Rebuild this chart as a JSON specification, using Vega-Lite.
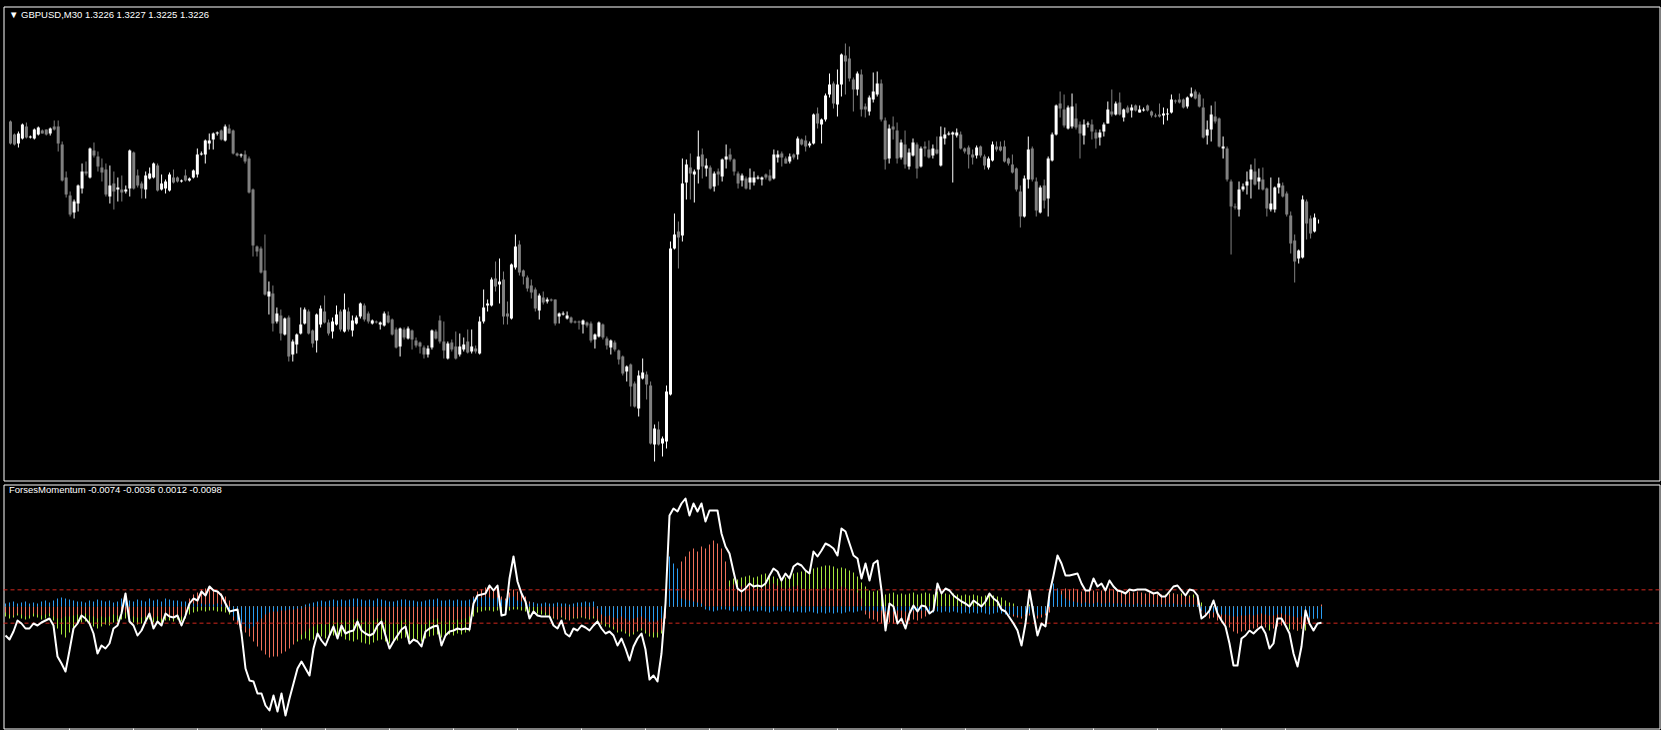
{
"$schema":"https://vega.github.io/schema/vega-lite/v6.json",
"background":"#000000",
"padding":{"left":2.5,"top":5.5,"right":2,"bottom":0},
"spacing":2,
"config":{"view":{"stroke":"#ffffff","strokeWidth":1},"axis":{"translate":0}},
"datasets":{"bars":[
{"i":0,"o":1.3276,"h":1.32765,"l":1.32645,"c":1.3265,"m":-0.0174,"b":0.0018,"g":-0.006,"r":-0.0036},
{"i":1,"o":1.32695,"h":1.327,"l":1.3264,"c":1.32645,"m":-0.0198,"b":0.0024,"g":-0.0072,"r":-0.0048},
{"i":2,"o":1.3265,"h":1.3271,"l":1.3263,"c":1.327,"m":-0.015,"b":0.003,"g":-0.0066,"r":-0.0054},
{"i":3,"o":1.32675,"h":1.3275,"l":1.3267,"c":1.32745,"m":-0.0084,"b":0.0018,"g":-0.0054,"r":-0.0042},
{"i":4,"o":1.32735,"h":1.32755,"l":1.32675,"c":1.3268,"m":-0.0102,"b":0.0024,"g":-0.0072,"r":-0.0048},
{"i":5,"o":1.3268,"h":1.3269,"l":1.32675,"c":1.32685,"m":-0.0132,"b":0.003,"g":-0.0078,"r":-0.006},
{"i":6,"o":1.32675,"h":1.32725,"l":1.3267,"c":1.3272,"m":-0.0132,"b":0.0018,"g":-0.0072,"r":-0.0054},
{"i":7,"o":1.32695,"h":1.32735,"l":1.3269,"c":1.3273,"m":-0.0102,"b":0.0024,"g":-0.006,"r":-0.0042},
{"i":8,"o":1.32715,"h":1.3272,"l":1.327,"c":1.327,"m":-0.0114,"b":0.0018,"g":-0.0066,"r":-0.0048},
{"i":9,"o":1.3272,"h":1.3272,"l":1.3269,"c":1.32695,"m":-0.0096,"b":0.003,"g":-0.0078,"r":-0.0054},
{"i":10,"o":1.327,"h":1.3273,"l":1.3269,"c":1.32725,"m":-0.0084,"b":0.0036,"g":-0.0072,"r":-0.0048},
{"i":11,"o":1.32735,"h":1.32765,"l":1.32715,"c":1.3272,"m":-0.0072,"b":0.0024,"g":-0.006,"r":-0.0042},
{"i":12,"o":1.32735,"h":1.32765,"l":1.3261,"c":1.3265,"m":-0.0114,"b":0.0036,"g":-0.0084,"r":-0.006},
{"i":13,"o":1.32645,"h":1.3266,"l":1.3246,"c":1.32465,"m":-0.03,"b":0.0048,"g":-0.0132,"r":-0.0072},
{"i":14,"o":1.3248,"h":1.3251,"l":1.3238,"c":1.32395,"m":-0.0342,"b":0.0054,"g":-0.0168,"r":-0.0072},
{"i":15,"o":1.3239,"h":1.3241,"l":1.32285,"c":1.32295,"m":-0.039,"b":0.0048,"g":-0.0186,"r":-0.006},
{"i":16,"o":1.32305,"h":1.3237,"l":1.32275,"c":1.3236,"m":-0.0264,"b":0.0042,"g":-0.0156,"r":-0.006},
{"i":17,"o":1.3235,"h":1.32445,"l":1.3231,"c":1.3244,"m":-0.0132,"b":0.0036,"g":-0.0132,"r":-0.0054},
{"i":18,"o":1.32425,"h":1.3255,"l":1.324,"c":1.3251,"m":-0.0102,"b":0.003,"g":-0.0108,"r":-0.0048},
{"i":19,"o":1.3251,"h":1.3256,"l":1.3249,"c":1.325,"m":-0.0054,"b":0.003,"g":-0.0096,"r":-0.0048},
{"i":20,"o":1.3248,"h":1.3263,"l":1.32475,"c":1.32625,"m":-0.0072,"b":0.0024,"g":-0.009,"r":-0.0042},
{"i":21,"o":1.32615,"h":1.32655,"l":1.3258,"c":1.3259,"m":-0.0102,"b":0.0036,"g":-0.0102,"r":-0.0054},
{"i":22,"o":1.32585,"h":1.3261,"l":1.3251,"c":1.32535,"m":-0.0162,"b":0.003,"g":-0.012,"r":-0.006},
{"i":23,"o":1.3253,"h":1.32575,"l":1.3246,"c":1.32505,"m":-0.0282,"b":0.0042,"g":-0.0132,"r":-0.0072},
{"i":24,"o":1.3252,"h":1.3255,"l":1.32385,"c":1.32395,"m":-0.0234,"b":0.0036,"g":-0.012,"r":-0.006},
{"i":25,"o":1.32385,"h":1.3254,"l":1.3235,"c":1.3244,"m":-0.0252,"b":0.003,"g":-0.0108,"r":-0.0066},
{"i":26,"o":1.3245,"h":1.3251,"l":1.3232,"c":1.3241,"m":-0.0222,"b":0.0036,"g":-0.0114,"r":-0.006},
{"i":27,"o":1.3242,"h":1.3248,"l":1.3236,"c":1.3243,"m":-0.0132,"b":0.0024,"g":-0.0096,"r":-0.0048},
{"i":28,"o":1.3242,"h":1.3249,"l":1.3236,"c":1.32405,"m":-0.0114,"b":0.003,"g":-0.009,"r":-0.0054},
{"i":29,"o":1.3241,"h":1.3244,"l":1.324,"c":1.3242,"m":-0.0042,"b":0.0048,"g":-0.0078,"r":-0.0048},
{"i":30,"o":1.32425,"h":1.3262,"l":1.32385,"c":1.32615,"m":0.0078,"b":0.0054,"g":-0.0072,"r":-0.0036},
{"i":31,"o":1.32605,"h":1.3261,"l":1.3242,"c":1.32425,"m":-0.009,"b":0.0036,"g":-0.009,"r":-0.0054},
{"i":32,"o":1.3249,"h":1.3252,"l":1.3243,"c":1.3244,"m":-0.0114,"b":0.003,"g":-0.0096,"r":-0.006},
{"i":33,"o":1.3245,"h":1.3246,"l":1.32375,"c":1.32425,"m":-0.0174,"b":0.0042,"g":-0.0108,"r":-0.0066},
{"i":34,"o":1.3242,"h":1.3251,"l":1.32375,"c":1.3249,"m":-0.0144,"b":0.0036,"g":-0.0102,"r":-0.0066},
{"i":35,"o":1.32475,"h":1.3253,"l":1.3247,"c":1.325,"m":-0.009,"b":0.003,"g":-0.009,"r":-0.006},
{"i":36,"o":1.3248,"h":1.32555,"l":1.32475,"c":1.3255,"m":-0.0042,"b":0.0048,"g":-0.0078,"r":-0.0054},
{"i":37,"o":1.3254,"h":1.3255,"l":1.3241,"c":1.32415,"m":-0.0132,"b":0.0036,"g":-0.0096,"r":-0.0066},
{"i":38,"o":1.3242,"h":1.32495,"l":1.32415,"c":1.3245,"m":-0.009,"b":0.0042,"g":-0.009,"r":-0.006},
{"i":39,"o":1.32425,"h":1.3247,"l":1.324,"c":1.3246,"m":-0.0114,"b":0.003,"g":-0.0102,"r":-0.0072},
{"i":40,"o":1.32415,"h":1.32505,"l":1.3241,"c":1.32495,"m":-0.0042,"b":0.0048,"g":-0.0084,"r":-0.006},
{"i":41,"o":1.3248,"h":1.3252,"l":1.3245,"c":1.32455,"m":-0.006,"b":0.0042,"g":-0.0084,"r":-0.0054},
{"i":42,"o":1.3248,"h":1.32485,"l":1.32455,"c":1.3246,"m":-0.0066,"b":0.0036,"g":-0.009,"r":-0.006},
{"i":43,"o":1.3246,"h":1.3247,"l":1.32455,"c":1.32465,"m":-0.0054,"b":0.0036,"g":-0.0078,"r":-0.0048},
{"i":44,"o":1.3249,"h":1.3252,"l":1.3246,"c":1.32465,"m":-0.0114,"b":0.003,"g":-0.009,"r":-0.006},
{"i":45,"o":1.32465,"h":1.3248,"l":1.3246,"c":1.32475,"m":-0.0054,"b":0.003,"g":-0.0072,"r":-0.0036},
{"i":46,"o":1.3248,"h":1.3252,"l":1.32475,"c":1.32515,"m":0.0018,"b":0.0018,"g":-0.0048,"r":0.0048},
{"i":47,"o":1.32495,"h":1.32625,"l":1.3248,"c":1.32595,"m":0.0048,"b":0.0018,"g":-0.0036,"r":0.0072},
{"i":48,"o":1.32595,"h":1.3261,"l":1.3259,"c":1.326,"m":0.0036,"b":0.0012,"g":-0.003,"r":0.0084},
{"i":49,"o":1.32595,"h":1.3267,"l":1.3255,"c":1.32665,"m":0.009,"b":0.0018,"g":-0.0024,"r":0.0102},
{"i":50,"o":1.3265,"h":1.327,"l":1.3262,"c":1.32665,"m":0.0066,"b":0.0012,"g":-0.003,"r":0.0108},
{"i":51,"o":1.3267,"h":1.32705,"l":1.3262,"c":1.327,"m":0.012,"b":0.0018,"g":-0.0024,"r":0.0114},
{"i":52,"o":1.327,"h":1.3271,"l":1.3269,"c":1.32705,"m":0.0096,"b":0.0012,"g":-0.0024,"r":0.0102},
{"i":53,"o":1.32715,"h":1.3272,"l":1.32665,"c":1.3267,"m":0.009,"b":0.0018,"g":-0.003,"r":0.009},
{"i":54,"o":1.32665,"h":1.32745,"l":1.3266,"c":1.32735,"m":0.0066,"b":0.0012,"g":-0.003,"r":0.0078},
{"i":55,"o":1.32725,"h":1.32745,"l":1.327,"c":1.327,"m":0.0018,"b":0.0012,"g":-0.0036,"r":0.006},
{"i":56,"o":1.32715,"h":1.3272,"l":1.32595,"c":1.326,"m":-0.003,"b":-0.0024,"g":-0.0048,"r":0.0036},
{"i":57,"o":1.326,"h":1.32605,"l":1.32585,"c":1.3259,"m":-0.0024,"b":-0.006,"g":-0.0072,"r":-0.0084},
{"i":58,"o":1.3259,"h":1.326,"l":1.3258,"c":1.32595,"m":-0.0018,"b":-0.0084,"g":-0.009,"r":-0.0108},
{"i":59,"o":1.32595,"h":1.32615,"l":1.3255,"c":1.3256,"m":-0.0162,"b":-0.0108,"g":-0.0108,"r":-0.0132},
{"i":60,"o":1.32575,"h":1.32585,"l":1.324,"c":1.32405,"m":-0.0372,"b":-0.012,"g":-0.012,"r":-0.0156},
{"i":61,"o":1.3242,"h":1.32425,"l":1.32085,"c":1.3214,"m":-0.0444,"b":-0.0132,"g":-0.0132,"r":-0.018},
{"i":62,"o":1.32135,"h":1.3214,"l":1.32085,"c":1.3211,"m":-0.045,"b":-0.012,"g":-0.015,"r":-0.021},
{"i":63,"o":1.32125,"h":1.32135,"l":1.32,"c":1.32005,"m":-0.0522,"b":-0.009,"g":-0.0168,"r":-0.024},
{"i":64,"o":1.32015,"h":1.32195,"l":1.3189,"c":1.31895,"m":-0.0522,"b":-0.0072,"g":-0.0192,"r":-0.0264},
{"i":65,"o":1.31885,"h":1.3196,"l":1.31795,"c":1.3191,"m":-0.0594,"b":-0.0048,"g":-0.0216,"r":-0.0288},
{"i":66,"o":1.319,"h":1.3194,"l":1.3171,"c":1.3175,"m":-0.0624,"b":-0.0036,"g":-0.024,"r":-0.0306},
{"i":67,"o":1.3176,"h":1.3183,"l":1.3175,"c":1.318,"m":-0.0534,"b":-0.003,"g":-0.0246,"r":-0.03},
{"i":68,"o":1.3179,"h":1.3182,"l":1.31665,"c":1.317,"m":-0.063,"b":-0.003,"g":-0.0228,"r":-0.03},
{"i":69,"o":1.31695,"h":1.3178,"l":1.3169,"c":1.31775,"m":-0.0522,"b":-0.0024,"g":-0.0216,"r":-0.0282},
{"i":70,"o":1.3178,"h":1.3179,"l":1.3156,"c":1.31585,"m":-0.0654,"b":-0.0024,"g":-0.021,"r":-0.027},
{"i":71,"o":1.31595,"h":1.3167,"l":1.3156,"c":1.3166,"m":-0.0552,"b":-0.0018,"g":-0.0198,"r":-0.0252},
{"i":72,"o":1.31645,"h":1.317,"l":1.316,"c":1.31695,"m":-0.0462,"b":-0.0018,"g":-0.0204,"r":-0.0228},
{"i":73,"o":1.317,"h":1.3183,"l":1.31695,"c":1.31745,"m":-0.0372,"b":-0.0012,"g":-0.021,"r":-0.0198},
{"i":74,"o":1.3175,"h":1.3183,"l":1.31745,"c":1.3182,"m":-0.033,"b":-0.0012,"g":-0.0198,"r":-0.0168},
{"i":75,"o":1.3181,"h":1.3182,"l":1.31695,"c":1.317,"m":-0.0372,"b":0.0012,"g":-0.0192,"r":-0.015},
{"i":76,"o":1.31715,"h":1.3172,"l":1.3163,"c":1.3165,"m":-0.0414,"b":0.0018,"g":-0.0204,"r":-0.0132},
{"i":77,"o":1.31665,"h":1.318,"l":1.31605,"c":1.31795,"m":-0.0252,"b":0.0024,"g":-0.0198,"r":-0.012},
{"i":78,"o":1.31745,"h":1.3184,"l":1.3173,"c":1.31825,"m":-0.0162,"b":0.003,"g":-0.018,"r":-0.0108},
{"i":79,"o":1.3181,"h":1.3189,"l":1.3175,"c":1.31755,"m":-0.0204,"b":0.0036,"g":-0.018,"r":-0.0102},
{"i":80,"o":1.31755,"h":1.3177,"l":1.3169,"c":1.317,"m":-0.0234,"b":0.003,"g":-0.0192,"r":-0.0108},
{"i":81,"o":1.3171,"h":1.3178,"l":1.31675,"c":1.3176,"m":-0.0174,"b":0.0036,"g":-0.0186,"r":-0.0096},
{"i":82,"o":1.31745,"h":1.3184,"l":1.3174,"c":1.31795,"m":-0.012,"b":0.0042,"g":-0.0174,"r":-0.009},
{"i":83,"o":1.3181,"h":1.3182,"l":1.3171,"c":1.3172,"m":-0.0192,"b":0.0036,"g":-0.0192,"r":-0.0096},
{"i":84,"o":1.3171,"h":1.319,"l":1.31705,"c":1.3182,"m":-0.0114,"b":0.0042,"g":-0.018,"r":-0.0084},
{"i":85,"o":1.3181,"h":1.3183,"l":1.3171,"c":1.3172,"m":-0.0162,"b":0.0036,"g":-0.0198,"r":-0.009},
{"i":86,"o":1.31715,"h":1.3179,"l":1.31685,"c":1.31765,"m":-0.015,"b":0.0042,"g":-0.0204,"r":-0.0084},
{"i":87,"o":1.3175,"h":1.3179,"l":1.31745,"c":1.3178,"m":-0.0144,"b":0.0048,"g":-0.021,"r":-0.0078},
{"i":88,"o":1.31785,"h":1.31855,"l":1.31775,"c":1.3185,"m":-0.009,"b":0.0048,"g":-0.0198,"r":-0.0072},
{"i":89,"o":1.3184,"h":1.3185,"l":1.3176,"c":1.3177,"m":-0.0144,"b":0.0042,"g":-0.0216,"r":-0.0084},
{"i":90,"o":1.318,"h":1.3181,"l":1.3175,"c":1.3176,"m":-0.0162,"b":0.0036,"g":-0.0222,"r":-0.009},
{"i":91,"o":1.3175,"h":1.3177,"l":1.31745,"c":1.31765,"m":-0.0174,"b":0.0042,"g":-0.0228,"r":-0.009},
{"i":92,"o":1.3176,"h":1.31765,"l":1.3175,"c":1.31755,"m":-0.0162,"b":0.0036,"g":-0.0216,"r":-0.0084},
{"i":93,"o":1.31745,"h":1.3176,"l":1.3172,"c":1.31755,"m":-0.0114,"b":0.0048,"g":-0.0204,"r":-0.0072},
{"i":94,"o":1.3174,"h":1.3181,"l":1.31735,"c":1.318,"m":-0.009,"b":0.0042,"g":-0.0198,"r":-0.0072},
{"i":95,"o":1.3179,"h":1.3181,"l":1.3175,"c":1.31755,"m":-0.0174,"b":0.0036,"g":-0.021,"r":-0.0084},
{"i":96,"o":1.3177,"h":1.31775,"l":1.3169,"c":1.31695,"m":-0.0252,"b":0.003,"g":-0.0222,"r":-0.0096},
{"i":97,"o":1.3172,"h":1.3173,"l":1.31625,"c":1.3163,"m":-0.021,"b":0.003,"g":-0.0216,"r":-0.0102},
{"i":98,"o":1.31635,"h":1.3173,"l":1.31585,"c":1.31725,"m":-0.0174,"b":0.0036,"g":-0.0204,"r":-0.0096},
{"i":99,"o":1.3172,"h":1.3173,"l":1.3167,"c":1.3168,"m":-0.0138,"b":0.0042,"g":-0.0192,"r":-0.0084},
{"i":100,"o":1.31675,"h":1.31735,"l":1.3167,"c":1.31725,"m":-0.012,"b":0.0042,"g":-0.0186,"r":-0.0078},
{"i":101,"o":1.31715,"h":1.3172,"l":1.3162,"c":1.3167,"m":-0.0222,"b":0.0036,"g":-0.0198,"r":-0.009},
{"i":102,"o":1.31665,"h":1.3168,"l":1.3163,"c":1.3164,"m":-0.0198,"b":0.0036,"g":-0.0204,"r":-0.0096},
{"i":103,"o":1.31655,"h":1.3166,"l":1.316,"c":1.31635,"m":-0.021,"b":0.003,"g":-0.0198,"r":-0.0102},
{"i":104,"o":1.3163,"h":1.3164,"l":1.31575,"c":1.31595,"m":-0.024,"b":0.003,"g":-0.021,"r":-0.0108},
{"i":105,"o":1.31595,"h":1.3164,"l":1.3158,"c":1.31625,"m":-0.015,"b":0.0036,"g":-0.0192,"r":-0.0096},
{"i":106,"o":1.3163,"h":1.3172,"l":1.3162,"c":1.31715,"m":-0.0132,"b":0.0042,"g":-0.018,"r":-0.0084},
{"i":107,"o":1.3171,"h":1.3172,"l":1.3167,"c":1.31675,"m":-0.012,"b":0.0042,"g":-0.0174,"r":-0.0078},
{"i":108,"o":1.31765,"h":1.3179,"l":1.3165,"c":1.3166,"m":-0.0114,"b":0.0048,"g":-0.0168,"r":-0.0072},
{"i":109,"o":1.3166,"h":1.3176,"l":1.31575,"c":1.31615,"m":-0.0234,"b":0.0036,"g":-0.0186,"r":-0.009},
{"i":110,"o":1.31575,"h":1.3166,"l":1.3157,"c":1.3165,"m":-0.0174,"b":0.0036,"g":-0.018,"r":-0.009},
{"i":111,"o":1.31655,"h":1.3167,"l":1.3161,"c":1.3162,"m":-0.015,"b":0.0042,"g":-0.0168,"r":-0.0084},
{"i":112,"o":1.31635,"h":1.3171,"l":1.3157,"c":1.31575,"m":-0.0144,"b":0.0036,"g":-0.0174,"r":-0.0084},
{"i":113,"o":1.31595,"h":1.317,"l":1.31585,"c":1.31635,"m":-0.0132,"b":0.0042,"g":-0.0162,"r":-0.0078},
{"i":114,"o":1.3162,"h":1.3168,"l":1.3161,"c":1.31645,"m":-0.0138,"b":0.0036,"g":-0.0168,"r":-0.0078},
{"i":115,"o":1.3166,"h":1.3172,"l":1.316,"c":1.31605,"m":-0.0132,"b":0.0036,"g":-0.0156,"r":-0.0072},
{"i":116,"o":1.3161,"h":1.3172,"l":1.316,"c":1.31635,"m":-0.0138,"b":0.0042,"g":-0.015,"r":-0.006},
{"i":117,"o":1.31625,"h":1.3164,"l":1.316,"c":1.3161,"m":0.0018,"b":0.0054,"g":-0.006,"r":0.006},
{"i":118,"o":1.316,"h":1.31785,"l":1.31595,"c":1.3176,"m":0.0066,"b":0.006,"g":-0.0036,"r":0.009},
{"i":119,"o":1.3176,"h":1.3192,"l":1.3175,"c":1.3183,"m":0.0072,"b":0.0054,"g":-0.003,"r":0.0102},
{"i":120,"o":1.3184,"h":1.3187,"l":1.3181,"c":1.3185,"m":0.0078,"b":0.006,"g":-0.0024,"r":0.0114},
{"i":121,"o":1.3184,"h":1.3198,"l":1.31835,"c":1.3197,"m":0.0126,"b":0.0054,"g":-0.0024,"r":0.0114},
{"i":122,"o":1.31975,"h":1.3206,"l":1.3191,"c":1.31935,"m":0.0096,"b":0.0048,"g":-0.003,"r":0.0102},
{"i":123,"o":1.31945,"h":1.32075,"l":1.3185,"c":1.3196,"m":0.0126,"b":0.0054,"g":-0.0024,"r":0.0108},
{"i":124,"o":1.3197,"h":1.3201,"l":1.31745,"c":1.31785,"m":-0.0054,"b":0.0042,"g":-0.0036,"r":0.006},
{"i":125,"o":1.318,"h":1.3186,"l":1.31745,"c":1.31785,"m":-0.0048,"b":0.0036,"g":-0.0036,"r":0.0048},
{"i":126,"o":1.31775,"h":1.3205,"l":1.3177,"c":1.32045,"m":0.0168,"b":0.0054,"g":-0.0024,"r":0.0084},
{"i":127,"o":1.3203,"h":1.32195,"l":1.3202,"c":1.32135,"m":0.03,"b":0.006,"g":-0.0018,"r":0.0102},
{"i":128,"o":1.32145,"h":1.32165,"l":1.3199,"c":1.32005,"m":0.015,"b":0.0036,"g":-0.0018,"r":0.009},
{"i":129,"o":1.32015,"h":1.3202,"l":1.31945,"c":1.31985,"m":0.0078,"b":0.003,"g":-0.0024,"r":0.0072},
{"i":130,"o":1.3198,"h":1.3199,"l":1.3191,"c":1.31925,"m":0.003,"b":0.0024,"g":-0.003,"r":0.006},
{"i":131,"o":1.3194,"h":1.3197,"l":1.31875,"c":1.31905,"m":-0.0072,"b":0.0018,"g":-0.0036,"r":0.003},
{"i":132,"o":1.3192,"h":1.3193,"l":1.3181,"c":1.31825,"m":-0.003,"b":0.0024,"g":-0.0036,"r":0.0024},
{"i":133,"o":1.31815,"h":1.319,"l":1.3177,"c":1.3189,"m":-0.0054,"b":0.0018,"g":-0.0042,"r":0.0012},
{"i":134,"o":1.3188,"h":1.3191,"l":1.31845,"c":1.31855,"m":-0.006,"b":0.0018,"g":-0.0048,"r":-0.0024},
{"i":135,"o":1.3186,"h":1.3188,"l":1.3185,"c":1.3187,"m":-0.006,"b":0.0024,"g":-0.0054,"r":-0.0036},
{"i":136,"o":1.3187,"h":1.31875,"l":1.3186,"c":1.31865,"m":-0.006,"b":0.0018,"g":-0.006,"r":-0.0048},
{"i":137,"o":1.3187,"h":1.3187,"l":1.3174,"c":1.3175,"m":-0.0114,"b":0.0018,"g":-0.0072,"r":-0.0066},
{"i":138,"o":1.31785,"h":1.31805,"l":1.3175,"c":1.318,"m":-0.0132,"b":0.0024,"g":-0.0072,"r":-0.0078},
{"i":139,"o":1.31795,"h":1.3181,"l":1.3179,"c":1.318,"m":-0.0084,"b":0.0018,"g":-0.0066,"r":-0.006},
{"i":140,"o":1.31775,"h":1.3181,"l":1.3177,"c":1.3179,"m":-0.0162,"b":0.0018,"g":-0.0078,"r":-0.0072},
{"i":141,"o":1.3178,"h":1.31785,"l":1.3175,"c":1.31755,"m":-0.018,"b":0.0012,"g":-0.0078,"r":-0.0084},
{"i":142,"o":1.3176,"h":1.31765,"l":1.3175,"c":1.31755,"m":-0.0132,"b":0.0018,"g":-0.0072,"r":-0.0066},
{"i":143,"o":1.3176,"h":1.31765,"l":1.3172,"c":1.31755,"m":-0.0144,"b":0.0024,"g":-0.0072,"r":-0.0066},
{"i":144,"o":1.31745,"h":1.3177,"l":1.317,"c":1.31765,"m":-0.0114,"b":0.0024,"g":-0.0066,"r":-0.006},
{"i":145,"o":1.31755,"h":1.3176,"l":1.3173,"c":1.3174,"m":-0.0126,"b":0.003,"g":-0.0072,"r":-0.0066},
{"i":146,"o":1.3175,"h":1.3176,"l":1.31655,"c":1.31665,"m":-0.0144,"b":0.0024,"g":-0.0078,"r":-0.0072},
{"i":147,"o":1.3167,"h":1.317,"l":1.31625,"c":1.31695,"m":-0.0114,"b":0.003,"g":-0.0072,"r":-0.006},
{"i":148,"o":1.31685,"h":1.3176,"l":1.3168,"c":1.31755,"m":-0.009,"b":-0.0012,"g":-0.009,"r":-0.0078},
{"i":149,"o":1.31745,"h":1.3175,"l":1.3167,"c":1.3168,"m":-0.0132,"b":-0.0048,"g":-0.0108,"r":-0.009},
{"i":150,"o":1.31675,"h":1.31685,"l":1.3162,"c":1.3164,"m":-0.0162,"b":-0.006,"g":-0.012,"r":-0.0096},
{"i":151,"o":1.3163,"h":1.3167,"l":1.31595,"c":1.31665,"m":-0.015,"b":-0.0054,"g":-0.0126,"r":-0.0108},
{"i":152,"o":1.31655,"h":1.31665,"l":1.3161,"c":1.3162,"m":-0.0174,"b":-0.0066,"g":-0.0138,"r":-0.012},
{"i":153,"o":1.31615,"h":1.3162,"l":1.31545,"c":1.3157,"m":-0.0234,"b":-0.0072,"g":-0.0156,"r":-0.0144},
{"i":154,"o":1.31585,"h":1.3159,"l":1.3149,"c":1.315,"m":-0.0192,"b":-0.006,"g":-0.015,"r":-0.0138},
{"i":155,"o":1.3151,"h":1.3154,"l":1.3146,"c":1.31535,"m":-0.0252,"b":-0.0072,"g":-0.0162,"r":-0.015},
{"i":156,"o":1.31545,"h":1.3155,"l":1.31335,"c":1.31435,"m":-0.0324,"b":-0.0084,"g":-0.018,"r":-0.0162},
{"i":157,"o":1.3145,"h":1.3146,"l":1.3133,"c":1.31335,"m":-0.024,"b":-0.0072,"g":-0.0168,"r":-0.0156},
{"i":158,"o":1.31325,"h":1.31515,"l":1.31285,"c":1.3149,"m":-0.0192,"b":-0.0066,"g":-0.015,"r":-0.0144},
{"i":159,"o":1.31475,"h":1.31575,"l":1.3147,"c":1.31505,"m":-0.0162,"b":-0.006,"g":-0.0144,"r":-0.0132},
{"i":160,"o":1.31495,"h":1.3151,"l":1.3137,"c":1.31445,"m":-0.0258,"b":-0.0072,"g":-0.0162,"r":-0.0144},
{"i":161,"o":1.3144,"h":1.3146,"l":1.31145,"c":1.3115,"m":-0.0438,"b":-0.009,"g":-0.018,"r":-0.0162},
{"i":162,"o":1.31145,"h":1.31245,"l":1.3106,"c":1.31225,"m":-0.0414,"b":-0.009,"g":-0.0186,"r":-0.0156},
{"i":163,"o":1.3122,"h":1.3126,"l":1.3114,"c":1.31145,"m":-0.045,"b":-0.0084,"g":-0.0186,"r":-0.0156},
{"i":164,"o":1.3115,"h":1.31185,"l":1.31085,"c":1.31175,"m":-0.0282,"b":-0.0072,"g":-0.0162,"r":-0.0144},
{"i":165,"o":1.3116,"h":1.3144,"l":1.31125,"c":1.3141,"m":0.0018,"b":0.0048,"g":-0.006,"r":-0.0072},
{"i":166,"o":1.31395,"h":1.3216,"l":1.3139,"c":1.32125,"m":0.0546,"b":0.03,"g":0.0048,"r":0.012},
{"i":167,"o":1.32125,"h":1.323,"l":1.3212,"c":1.32195,"m":0.0588,"b":0.0258,"g":0.0042,"r":0.015},
{"i":168,"o":1.3221,"h":1.3226,"l":1.32025,"c":1.3218,"m":0.057,"b":0.0228,"g":0.0036,"r":0.018},
{"i":169,"o":1.3219,"h":1.32575,"l":1.3216,"c":1.3245,"m":0.0618,"b":0.0048,"g":0.003,"r":0.027},
{"i":170,"o":1.32455,"h":1.3257,"l":1.3237,"c":1.32545,"m":0.0648,"b":0.0042,"g":0.0024,"r":0.03},
{"i":171,"o":1.3253,"h":1.326,"l":1.3237,"c":1.325,"m":0.0546,"b":0.0036,"g":0.0018,"r":0.033},
{"i":172,"o":1.32495,"h":1.3252,"l":1.32355,"c":1.3251,"m":0.0618,"b":0.003,"g":0.0018,"r":0.0348},
{"i":173,"o":1.3252,"h":1.32715,"l":1.3245,"c":1.32585,"m":0.057,"b":0.0024,"g":0.0012,"r":0.033},
{"i":174,"o":1.32595,"h":1.32625,"l":1.32475,"c":1.32535,"m":0.0618,"b":0.0018,"g":0.0018,"r":0.036},
{"i":175,"o":1.32525,"h":1.32575,"l":1.32485,"c":1.3254,"m":0.051,"b":-0.0018,"g":0.0024,"r":0.0348},
{"i":176,"o":1.3253,"h":1.3254,"l":1.3242,"c":1.32425,"m":0.0576,"b":-0.0024,"g":0.0024,"r":0.0372},
{"i":177,"o":1.32435,"h":1.3251,"l":1.3241,"c":1.325,"m":0.0576,"b":-0.003,"g":0.003,"r":0.0396},
{"i":178,"o":1.3251,"h":1.32525,"l":1.3244,"c":1.32495,"m":0.0576,"b":-0.0024,"g":0.0036,"r":0.0378},
{"i":179,"o":1.32485,"h":1.32575,"l":1.3246,"c":1.3257,"m":0.0438,"b":-0.0018,"g":0.0048,"r":0.0348},
{"i":180,"o":1.3257,"h":1.32645,"l":1.32525,"c":1.32585,"m":0.036,"b":-0.0018,"g":0.0072,"r":0.027},
{"i":181,"o":1.32595,"h":1.32625,"l":1.3256,"c":1.3257,"m":0.0318,"b":-0.0024,"g":0.0156,"r":0.012},
{"i":182,"o":1.3257,"h":1.32575,"l":1.3249,"c":1.3251,"m":0.021,"b":-0.003,"g":0.0168,"r":0.0132},
{"i":183,"o":1.325,"h":1.3251,"l":1.32425,"c":1.3245,"m":0.0108,"b":-0.0024,"g":0.0162,"r":0.0108},
{"i":184,"o":1.32465,"h":1.325,"l":1.32435,"c":1.3249,"m":0.009,"b":-0.003,"g":0.0174,"r":0.012},
{"i":185,"o":1.32475,"h":1.32485,"l":1.3242,"c":1.32425,"m":0.0108,"b":-0.0024,"g":0.018,"r":0.0126},
{"i":186,"o":1.32455,"h":1.32525,"l":1.3242,"c":1.3248,"m":0.0138,"b":-0.003,"g":0.0186,"r":0.0132},
{"i":187,"o":1.32455,"h":1.3251,"l":1.3244,"c":1.3248,"m":0.012,"b":-0.0024,"g":0.0174,"r":0.012},
{"i":188,"o":1.32475,"h":1.3249,"l":1.3247,"c":1.3248,"m":0.0126,"b":-0.003,"g":0.018,"r":0.0108},
{"i":189,"o":1.3247,"h":1.32485,"l":1.3244,"c":1.3248,"m":0.012,"b":-0.0024,"g":0.0192,"r":0.0114},
{"i":190,"o":1.32495,"h":1.325,"l":1.3247,"c":1.3248,"m":0.0138,"b":-0.003,"g":0.0198,"r":0.012},
{"i":191,"o":1.3249,"h":1.3252,"l":1.3246,"c":1.32465,"m":0.0186,"b":-0.0036,"g":0.0186,"r":0.0132},
{"i":192,"o":1.32475,"h":1.3262,"l":1.3247,"c":1.32595,"m":0.0228,"b":-0.003,"g":0.018,"r":0.0138},
{"i":193,"o":1.3258,"h":1.32615,"l":1.32555,"c":1.32595,"m":0.021,"b":-0.0024,"g":0.0168,"r":0.0126},
{"i":194,"o":1.326,"h":1.3261,"l":1.32535,"c":1.3258,"m":0.0156,"b":-0.003,"g":0.0162,"r":0.0114},
{"i":195,"o":1.32575,"h":1.32585,"l":1.3255,"c":1.3255,"m":0.0198,"b":-0.0024,"g":0.0174,"r":0.0108},
{"i":196,"o":1.3256,"h":1.326,"l":1.3255,"c":1.32585,"m":0.0168,"b":-0.003,"g":0.0186,"r":0.0114},
{"i":197,"o":1.32595,"h":1.326,"l":1.3257,"c":1.3258,"m":0.024,"b":-0.0036,"g":0.0198,"r":0.012},
{"i":198,"o":1.32595,"h":1.32685,"l":1.3257,"c":1.32675,"m":0.0258,"b":-0.003,"g":0.0204,"r":0.0126},
{"i":199,"o":1.3267,"h":1.32675,"l":1.3264,"c":1.32645,"m":0.0246,"b":-0.0036,"g":0.021,"r":0.0108},
{"i":200,"o":1.32665,"h":1.3269,"l":1.3261,"c":1.32635,"m":0.0216,"b":-0.0036,"g":0.0216,"r":0.0102},
{"i":201,"o":1.3264,"h":1.3266,"l":1.3263,"c":1.3265,"m":0.0198,"b":-0.003,"g":0.0222,"r":0.0096},
{"i":202,"o":1.3265,"h":1.328,"l":1.32645,"c":1.32795,"m":0.033,"b":-0.0036,"g":0.0228,"r":0.0108},
{"i":203,"o":1.328,"h":1.3283,"l":1.32725,"c":1.3275,"m":0.03,"b":-0.0042,"g":0.0234,"r":0.0102},
{"i":204,"o":1.32745,"h":1.32775,"l":1.3265,"c":1.3277,"m":0.0336,"b":-0.0036,"g":0.024,"r":0.0108},
{"i":205,"o":1.3277,"h":1.329,"l":1.3276,"c":1.3289,"m":0.0378,"b":-0.0042,"g":0.0246,"r":0.0114},
{"i":206,"o":1.32895,"h":1.33,"l":1.3288,"c":1.32945,"m":0.0366,"b":-0.0036,"g":0.0246,"r":0.0108},
{"i":207,"o":1.3295,"h":1.3296,"l":1.32825,"c":1.3285,"m":0.0348,"b":-0.0042,"g":0.024,"r":0.0102},
{"i":208,"o":1.32845,"h":1.3302,"l":1.32785,"c":1.32945,"m":0.0306,"b":-0.0036,"g":0.0228,"r":0.0096},
{"i":209,"o":1.32945,"h":1.331,"l":1.32885,"c":1.33095,"m":0.0468,"b":-0.0042,"g":0.0234,"r":0.012},
{"i":210,"o":1.3309,"h":1.3315,"l":1.32895,"c":1.3306,"m":0.045,"b":-0.0036,"g":0.0228,"r":0.0114},
{"i":211,"o":1.33075,"h":1.33135,"l":1.3296,"c":1.32975,"m":0.0378,"b":-0.003,"g":0.0216,"r":0.0102},
{"i":212,"o":1.3297,"h":1.3298,"l":1.3281,"c":1.3292,"m":0.0306,"b":-0.0036,"g":0.0204,"r":0.0096},
{"i":213,"o":1.3292,"h":1.3301,"l":1.3289,"c":1.33,"m":0.0288,"b":-0.003,"g":0.018,"r":0.0084},
{"i":214,"o":1.32995,"h":1.3302,"l":1.32785,"c":1.3282,"m":0.0168,"b":-0.0024,"g":0.0144,"r":0.0048},
{"i":215,"o":1.32835,"h":1.3285,"l":1.3278,"c":1.3282,"m":0.0258,"b":-0.0024,"g":0.012,"r":-0.0048},
{"i":216,"o":1.3281,"h":1.3289,"l":1.3279,"c":1.3288,"m":0.0156,"b":-0.003,"g":0.0096,"r":-0.0072},
{"i":217,"o":1.3287,"h":1.33005,"l":1.32855,"c":1.3291,"m":0.0258,"b":-0.0024,"g":0.009,"r":-0.0078},
{"i":218,"o":1.32895,"h":1.3301,"l":1.32885,"c":1.3295,"m":0.0276,"b":-0.003,"g":0.0096,"r":-0.009},
{"i":219,"o":1.3295,"h":1.3297,"l":1.3276,"c":1.3277,"m":0.0096,"b":-0.0024,"g":0.0084,"r":-0.0102},
{"i":220,"o":1.32765,"h":1.3278,"l":1.3252,"c":1.3257,"m":-0.0144,"b":-0.003,"g":0.0072,"r":-0.0102},
{"i":221,"o":1.32575,"h":1.32745,"l":1.3255,"c":1.32725,"m":0.0018,"b":-0.0024,"g":0.0078,"r":-0.0096},
{"i":222,"o":1.32735,"h":1.32785,"l":1.3267,"c":1.3272,"m":0,"b":-0.003,"g":0.0084,"r":-0.0102},
{"i":223,"o":1.32715,"h":1.32755,"l":1.3255,"c":1.32575,"m":-0.0102,"b":-0.0024,"g":0.0072,"r":-0.0096},
{"i":224,"o":1.3258,"h":1.3267,"l":1.3257,"c":1.32655,"m":-0.0072,"b":-0.0024,"g":0.0078,"r":-0.009},
{"i":225,"o":1.32645,"h":1.32715,"l":1.32525,"c":1.32545,"m":-0.0132,"b":-0.003,"g":0.0072,"r":-0.0096},
{"i":226,"o":1.32535,"h":1.32625,"l":1.3252,"c":1.32605,"m":-0.0042,"b":-0.0024,"g":0.0078,"r":-0.0084},
{"i":227,"o":1.3259,"h":1.32675,"l":1.32585,"c":1.32655,"m":0.0006,"b":-0.0024,"g":0.0084,"r":-0.0078},
{"i":228,"o":1.32645,"h":1.32655,"l":1.32475,"c":1.32525,"m":-0.003,"b":-0.003,"g":0.0072,"r":-0.0084},
{"i":229,"o":1.32535,"h":1.32635,"l":1.3253,"c":1.32625,"m":0.0006,"b":-0.0024,"g":0.0078,"r":-0.0072},
{"i":230,"o":1.32635,"h":1.3266,"l":1.32585,"c":1.32625,"m":0,"b":-0.0024,"g":0.0084,"r":-0.006},
{"i":231,"o":1.3262,"h":1.32665,"l":1.32575,"c":1.3258,"m":-0.0042,"b":-0.003,"g":0.0078,"r":-0.0036},
{"i":232,"o":1.3259,"h":1.32645,"l":1.32575,"c":1.32625,"m":-0.0024,"b":-0.0036,"g":0.0072,"r":-0.0024},
{"i":233,"o":1.3262,"h":1.32685,"l":1.32595,"c":1.326,"m":0.0138,"b":-0.003,"g":0.009,"r":-0.0018},
{"i":234,"o":1.3254,"h":1.32735,"l":1.32535,"c":1.32685,"m":0.0078,"b":-0.0036,"g":0.0084,"r":-0.0018},
{"i":235,"o":1.32675,"h":1.3273,"l":1.32645,"c":1.32695,"m":0.0108,"b":-0.003,"g":0.0078,"r":-0.0012},
{"i":236,"o":1.32695,"h":1.3271,"l":1.3269,"c":1.327,"m":0.0096,"b":-0.0036,"g":0.0072,"r":-0.0018},
{"i":237,"o":1.32695,"h":1.3271,"l":1.32455,"c":1.32705,"m":0.0066,"b":-0.003,"g":0.0078,"r":-0.0018},
{"i":238,"o":1.3269,"h":1.32725,"l":1.3268,"c":1.32705,"m":0.0048,"b":-0.0036,"g":0.0072,"r":-0.0012},
{"i":239,"o":1.32695,"h":1.3271,"l":1.3262,"c":1.32625,"m":0.003,"b":-0.0042,"g":0.0066,"r":-0.0018},
{"i":240,"o":1.32625,"h":1.3263,"l":1.326,"c":1.3261,"m":0.0018,"b":-0.0036,"g":0.0072,"r":-0.0012},
{"i":241,"o":1.3263,"h":1.3264,"l":1.32525,"c":1.32595,"m":0,"b":-0.0042,"g":0.0066,"r":-0.0018},
{"i":242,"o":1.32595,"h":1.3262,"l":1.32545,"c":1.3258,"m":0.0036,"b":-0.0036,"g":0.0072,"r":-0.0018},
{"i":243,"o":1.3259,"h":1.3264,"l":1.32575,"c":1.3263,"m":0.0018,"b":-0.0042,"g":0.0066,"r":-0.0012},
{"i":244,"o":1.32635,"h":1.3264,"l":1.3258,"c":1.3259,"m":0,"b":-0.0036,"g":0.006,"r":-0.0018},
{"i":245,"o":1.32585,"h":1.32595,"l":1.3252,"c":1.3254,"m":0.003,"b":-0.0042,"g":0.0066,"r":-0.0012},
{"i":246,"o":1.3253,"h":1.32585,"l":1.3252,"c":1.32575,"m":0.0078,"b":-0.0048,"g":0.0072,"r":-0.0018},
{"i":247,"o":1.32565,"h":1.3266,"l":1.3256,"c":1.32645,"m":0.0048,"b":-0.0042,"g":0.0066,"r":-0.0018},
{"i":248,"o":1.32635,"h":1.3266,"l":1.3261,"c":1.3262,"m":0.003,"b":-0.0036,"g":0.006,"r":-0.0012},
{"i":249,"o":1.32635,"h":1.3266,"l":1.3261,"c":1.32615,"m":-0.0018,"b":-0.0042,"g":0.0054,"r":-0.0018},
{"i":250,"o":1.32635,"h":1.32665,"l":1.32555,"c":1.3256,"m":-0.003,"b":-0.0048,"g":0.0036,"r":-0.0036},
{"i":251,"o":1.32575,"h":1.3258,"l":1.3254,"c":1.3255,"m":-0.0066,"b":-0.0048,"g":0.0024,"r":-0.0048},
{"i":252,"o":1.32545,"h":1.32595,"l":1.325,"c":1.32505,"m":-0.0102,"b":-0.0048,"g":0.0018,"r":-0.006},
{"i":253,"o":1.32525,"h":1.3253,"l":1.3241,"c":1.3242,"m":-0.0144,"b":-0.0054,"g":-0.0018,"r":-0.0066},
{"i":254,"o":1.3241,"h":1.3244,"l":1.3223,"c":1.32285,"m":-0.0234,"b":-0.006,"g":-0.0024,"r":-0.0072},
{"i":255,"o":1.32285,"h":1.3249,"l":1.3228,"c":1.32475,"m":-0.0102,"b":-0.0048,"g":-0.0018,"r":-0.006},
{"i":256,"o":1.3247,"h":1.32685,"l":1.32425,"c":1.3262,"m":0.0096,"b":-0.0042,"g":0.0012,"r":-0.0054},
{"i":257,"o":1.32625,"h":1.32635,"l":1.3246,"c":1.3247,"m":-0.0042,"b":-0.0048,"g":-0.0012,"r":-0.006},
{"i":258,"o":1.3246,"h":1.3248,"l":1.32285,"c":1.32315,"m":-0.0174,"b":-0.0054,"g":-0.0018,"r":-0.0072},
{"i":259,"o":1.32305,"h":1.3244,"l":1.323,"c":1.3243,"m":-0.0102,"b":-0.0048,"g":-0.0012,"r":-0.0066},
{"i":260,"o":1.3244,"h":1.3247,"l":1.32325,"c":1.32365,"m":-0.012,"b":-0.0042,"g":-0.0012,"r":-0.0054},
{"i":261,"o":1.32375,"h":1.32585,"l":1.32285,"c":1.32575,"m":0.0078,"b":0.0048,"g":0.0018,"r":-0.0036},
{"i":262,"o":1.32565,"h":1.32705,"l":1.3256,"c":1.32695,"m":0.0186,"b":0.0138,"g":0.003,"r":0.0048},
{"i":263,"o":1.32695,"h":1.32845,"l":1.3269,"c":1.3284,"m":0.0306,"b":0.0108,"g":0.0048,"r":0.0084},
{"i":264,"o":1.3285,"h":1.3291,"l":1.3278,"c":1.32825,"m":0.0258,"b":0.0072,"g":0.006,"r":0.0096},
{"i":265,"o":1.3282,"h":1.32895,"l":1.3273,"c":1.3274,"m":0.0186,"b":0.0048,"g":0.0066,"r":0.0108},
{"i":266,"o":1.32725,"h":1.3284,"l":1.3272,"c":1.3283,"m":0.0186,"b":0.0036,"g":0.0072,"r":0.0102},
{"i":267,"o":1.32735,"h":1.329,"l":1.32725,"c":1.32835,"m":0.0192,"b":0.003,"g":0.0072,"r":0.0108},
{"i":268,"o":1.32775,"h":1.3285,"l":1.3272,"c":1.3273,"m":0.0198,"b":0.0024,"g":0.0066,"r":0.0102},
{"i":269,"o":1.32745,"h":1.3276,"l":1.32575,"c":1.327,"m":0.0138,"b":0.0018,"g":0.006,"r":0.009},
{"i":270,"o":1.3269,"h":1.3277,"l":1.32645,"c":1.32745,"m":0.0096,"b":0.0024,"g":0.0066,"r":0.0096},
{"i":271,"o":1.32745,"h":1.3276,"l":1.3273,"c":1.3275,"m":0.0096,"b":0.0018,"g":0.0072,"r":0.0102},
{"i":272,"o":1.32745,"h":1.3277,"l":1.3267,"c":1.3271,"m":0.0168,"b":0.0018,"g":0.0066,"r":0.0096},
{"i":273,"o":1.32705,"h":1.3272,"l":1.32625,"c":1.32675,"m":0.012,"b":0.0024,"g":0.006,"r":0.009},
{"i":274,"o":1.3268,"h":1.3272,"l":1.3264,"c":1.32705,"m":0.0138,"b":0.0018,"g":0.0066,"r":0.0096},
{"i":275,"o":1.3271,"h":1.32755,"l":1.32685,"c":1.32745,"m":0.0096,"b":0.0018,"g":0.0072,"r":0.0102},
{"i":276,"o":1.3275,"h":1.3286,"l":1.3275,"c":1.3282,"m":0.0156,"b":0.0024,"g":0.0072,"r":0.0108},
{"i":277,"o":1.3281,"h":1.3292,"l":1.32785,"c":1.32795,"m":0.012,"b":0.0018,"g":0.0066,"r":0.0102},
{"i":278,"o":1.32795,"h":1.3286,"l":1.3279,"c":1.3285,"m":0.0096,"b":0.0018,"g":0.0072,"r":0.0096},
{"i":279,"o":1.32855,"h":1.32905,"l":1.3279,"c":1.32795,"m":0.009,"b":0.0018,"g":0.0066,"r":0.009},
{"i":280,"o":1.3278,"h":1.32825,"l":1.3276,"c":1.3282,"m":0.0078,"b":0.0012,"g":0.006,"r":0.0084},
{"i":281,"o":1.3283,"h":1.3284,"l":1.328,"c":1.32805,"m":0.0102,"b":0.0018,"g":0.0066,"r":0.009},
{"i":282,"o":1.32815,"h":1.32845,"l":1.3278,"c":1.3283,"m":0.0096,"b":0.0012,"g":0.0072,"r":0.0084},
{"i":283,"o":1.3284,"h":1.32845,"l":1.3281,"c":1.32815,"m":0.0102,"b":0.0018,"g":0.0066,"r":0.009},
{"i":284,"o":1.32805,"h":1.3284,"l":1.32805,"c":1.3282,"m":0.0102,"b":0.0012,"g":0.0072,"r":0.0084},
{"i":285,"o":1.32815,"h":1.3283,"l":1.3281,"c":1.3282,"m":0.0102,"b":0.0012,"g":0.0066,"r":0.0078},
{"i":286,"o":1.3284,"h":1.32845,"l":1.3281,"c":1.32815,"m":0.009,"b":0.0018,"g":0.0072,"r":0.0084},
{"i":287,"o":1.3281,"h":1.32815,"l":1.3278,"c":1.3279,"m":0.0078,"b":0.0012,"g":0.0066,"r":0.0078},
{"i":288,"o":1.3279,"h":1.328,"l":1.3278,"c":1.32785,"m":0.0084,"b":0.0012,"g":0.0072,"r":0.0072},
{"i":289,"o":1.32795,"h":1.3285,"l":1.3278,"c":1.32785,"m":0.006,"b":0.0012,"g":0.0066,"r":0.0072},
{"i":290,"o":1.3279,"h":1.3283,"l":1.32745,"c":1.328,"m":0.006,"b":0.0012,"g":0.0072,"r":0.0066},
{"i":291,"o":1.32795,"h":1.32825,"l":1.32765,"c":1.328,"m":0.009,"b":0.0018,"g":0.0078,"r":0.0072},
{"i":292,"o":1.32805,"h":1.32895,"l":1.328,"c":1.3287,"m":0.012,"b":0.0018,"g":0.0078,"r":0.0078},
{"i":293,"o":1.32865,"h":1.3287,"l":1.3285,"c":1.3286,"m":0.0126,"b":0.0012,"g":0.0072,"r":0.0072},
{"i":294,"o":1.3287,"h":1.329,"l":1.3285,"c":1.32855,"m":0.0096,"b":0.0012,"g":0.0078,"r":0.0066},
{"i":295,"o":1.3287,"h":1.32875,"l":1.32825,"c":1.3283,"m":0.0066,"b":0.0012,"g":0.0072,"r":0.006},
{"i":296,"o":1.32835,"h":1.32885,"l":1.32825,"c":1.3288,"m":0.0102,"b":0.0018,"g":0.0066,"r":0.006},
{"i":297,"o":1.32885,"h":1.3293,"l":1.3288,"c":1.329,"m":0.0096,"b":0.0012,"g":0.0072,"r":0.0054},
{"i":298,"o":1.3291,"h":1.3292,"l":1.3287,"c":1.32875,"m":0.0066,"b":0.0012,"g":0.006,"r":0.0042},
{"i":299,"o":1.32895,"h":1.32905,"l":1.3283,"c":1.32835,"m":-0.0072,"b":-0.0024,"g":0.0024,"r":-0.003},
{"i":300,"o":1.3283,"h":1.32875,"l":1.32675,"c":1.3268,"m":-0.0054,"b":-0.0036,"g":-0.003,"r":-0.006},
{"i":301,"o":1.3269,"h":1.32765,"l":1.32645,"c":1.3272,"m":-0.0024,"b":-0.0042,"g":-0.0036,"r":-0.0072},
{"i":302,"o":1.3272,"h":1.3284,"l":1.3266,"c":1.32795,"m":0.0036,"b":-0.0036,"g":-0.003,"r":-0.0066},
{"i":303,"o":1.32785,"h":1.3286,"l":1.3275,"c":1.3276,"m":-0.0042,"b":-0.0042,"g":-0.0048,"r":-0.0084},
{"i":304,"o":1.32775,"h":1.3278,"l":1.3263,"c":1.32635,"m":-0.0084,"b":-0.0048,"g":-0.006,"r":-0.0096},
{"i":305,"o":1.32625,"h":1.32685,"l":1.32575,"c":1.32635,"m":-0.012,"b":-0.0048,"g":-0.0072,"r":-0.0108},
{"i":306,"o":1.32625,"h":1.32635,"l":1.3246,"c":1.3247,"m":-0.0222,"b":-0.0054,"g":-0.0084,"r":-0.0126},
{"i":307,"o":1.3246,"h":1.3247,"l":1.32095,"c":1.32335,"m":-0.0354,"b":-0.006,"g":-0.0102,"r":-0.015},
{"i":308,"o":1.32335,"h":1.3235,"l":1.3232,"c":1.3233,"m":-0.0354,"b":-0.006,"g":-0.0108,"r":-0.0162},
{"i":309,"o":1.3232,"h":1.3246,"l":1.32285,"c":1.3242,"m":-0.0192,"b":-0.0054,"g":-0.0102,"r":-0.015},
{"i":310,"o":1.3242,"h":1.3245,"l":1.3241,"c":1.32435,"m":-0.0174,"b":-0.0054,"g":-0.0096,"r":-0.0144},
{"i":311,"o":1.3244,"h":1.3251,"l":1.32395,"c":1.3246,"m":-0.0144,"b":-0.0048,"g":-0.009,"r":-0.0138},
{"i":312,"o":1.3247,"h":1.32545,"l":1.32375,"c":1.3252,"m":-0.0162,"b":-0.0054,"g":-0.0096,"r":-0.0132},
{"i":313,"o":1.3251,"h":1.32575,"l":1.3244,"c":1.32445,"m":-0.0138,"b":-0.0048,"g":-0.009,"r":-0.0126},
{"i":314,"o":1.3246,"h":1.32525,"l":1.3242,"c":1.3248,"m":-0.012,"b":-0.0042,"g":-0.0084,"r":-0.012},
{"i":315,"o":1.3247,"h":1.3253,"l":1.32415,"c":1.3242,"m":-0.0162,"b":-0.0048,"g":-0.009,"r":-0.0126},
{"i":316,"o":1.32425,"h":1.3243,"l":1.32285,"c":1.32325,"m":-0.0252,"b":-0.0054,"g":-0.0144,"r":-0.0108},
{"i":317,"o":1.3232,"h":1.3248,"l":1.3231,"c":1.3235,"m":-0.0222,"b":-0.0054,"g":-0.0114,"r":-0.0132},
{"i":318,"o":1.3232,"h":1.32435,"l":1.32305,"c":1.3243,"m":-0.0072,"b":-0.0048,"g":-0.0096,"r":-0.012},
{"i":319,"o":1.3243,"h":1.3248,"l":1.324,"c":1.3245,"m":-0.0072,"b":-0.0042,"g":-0.009,"r":-0.0114},
{"i":320,"o":1.3244,"h":1.32455,"l":1.3238,"c":1.32385,"m":-0.0114,"b":-0.0048,"g":-0.0102,"r":-0.012},
{"i":321,"o":1.324,"h":1.3241,"l":1.32285,"c":1.32295,"m":-0.0162,"b":-0.0054,"g":-0.0138,"r":-0.0102},
{"i":322,"o":1.3229,"h":1.3231,"l":1.321,"c":1.3215,"m":-0.0282,"b":-0.006,"g":-0.0132,"r":-0.0138},
{"i":323,"o":1.32165,"h":1.32195,"l":1.31955,"c":1.3206,"m":-0.036,"b":-0.0066,"g":-0.0144,"r":-0.0144},
{"i":324,"o":1.32075,"h":1.3212,"l":1.3205,"c":1.32115,"m":-0.024,"b":-0.006,"g":-0.0132,"r":-0.0132},
{"i":325,"o":1.3208,"h":1.3239,"l":1.32075,"c":1.3237,"m":-0.0024,"b":-0.006,"g":-0.0144,"r":-0.0108},
{"i":326,"o":1.3236,"h":1.3237,"l":1.3217,"c":1.3225,"m":-0.0102,"b":-0.0066,"g":-0.0096,"r":-0.0084},
{"i":327,"o":1.32275,"h":1.3229,"l":1.32175,"c":1.322,"m":-0.0144,"b":-0.0072,"g":-0.0072,"r":-0.0048},
{"i":328,"o":1.3221,"h":1.323,"l":1.32205,"c":1.3228,"m":-0.0102,"b":-0.0072,"g":-0.0048,"r":-0.0012},
{"i":329,"o":1.3226,"h":1.3227,"l":1.3225,"c":1.3226,"m":-0.0098,"b":-0.0074,"g":-0.0036,"r":0.0012}
]},
"vconcat":[
{
"width":1656,"height":474,
"title":{"text":"▼ GBPUSD,M30  1.3226 1.3227 1.3225 1.3226","anchor":"start","frame":"group","orient":"top","offset":-13.5,"dx":5.5,"dy":7,"baseline":"alphabetic","font":"Liberation Sans","fontSize":9.5,"fontWeight":"normal","color":"#ffffff"},
"data":{"name":"bars"},
"encoding":{"x":{"field":"i","type":"quantitative","scale":{"domain":[-0.5,413.5],"nice":false,"zero":false},"axis":null}},
"layer":[
{"mark":{"type":"rule","strokeWidth":1},
 "encoding":{"y":{"field":"l","type":"quantitative","scale":{"domain":[1.30965,1.33335],"nice":false,"zero":false},"axis":null},
 "y2":{"field":"h"},
 "color":{"condition":{"test":"datum.c >= datum.o","value":"#ffffff"},"value":"#808080"}}},
{"mark":{"type":"bar","width":3},
 "encoding":{"y":{"field":"o","type":"quantitative","axis":null},
 "y2":{"field":"c"},
 "color":{"condition":{"test":"datum.c >= datum.o","value":"#ffffff"},"value":"#808080"}}}
]
},
{
"width":1656,"height":244,
"title":{"text":"ForsesMomentum -0.0074 -0.0036 0.0012 -0.0098","anchor":"start","frame":"group","orient":"top","offset":-12.5,"dx":5.5,"dy":5.5,"baseline":"alphabetic","font":"Liberation Sans","fontSize":9.5,"fontWeight":"normal","color":"#ffffff"},
"data":{"name":"bars"},
"layer":[
{"mark":{"type":"rule","color":"#a8e63c","strokeWidth":1},
 "encoding":{"x":{"field":"i","type":"quantitative","scale":{"domain":[-0.5,413.5],"nice":false,"zero":false},
   "axis":{"values":[16,32,48,64,80,96,112,128,144,160,176,192,208,224,240,256,272,288,304,320],"labels":false,"domain":false,"grid":false,"ticks":true,"tickColor":"#ffffff","tickSize":5,"tickWidth":1,"title":null}},
 "y":{"field":"g","type":"quantitative","scale":{"domain":[-0.0732,0.0732],"nice":false,"zero":false},"axis":null},
 "y2":{"datum":0}}},
{"mark":{"type":"rule","color":"#f0705a","strokeWidth":1},
 "encoding":{"x":{"field":"i","type":"quantitative"},"y":{"field":"r","type":"quantitative","axis":null},"y2":{"datum":0}}},
{"mark":{"type":"rule","color":"#2a9df4","strokeWidth":1},
 "encoding":{"x":{"field":"i","type":"quantitative"},"y":{"field":"b","type":"quantitative","axis":null},"y2":{"datum":0}}},
{"data":{"values":[{"lvl":0.01},{"lvl":-0.01}]},
 "mark":{"type":"rule","color":"#d0281e","strokeDash":[4,3],"strokeWidth":1},
 "encoding":{"y":{"field":"lvl","type":"quantitative","axis":null}}},
{"mark":{"type":"line","color":"#ffffff","strokeWidth":2,"strokeJoin":"round"},
 "encoding":{"x":{"field":"i","type":"quantitative"},"y":{"field":"m","type":"quantitative","axis":null}}}
]
}
]
}
